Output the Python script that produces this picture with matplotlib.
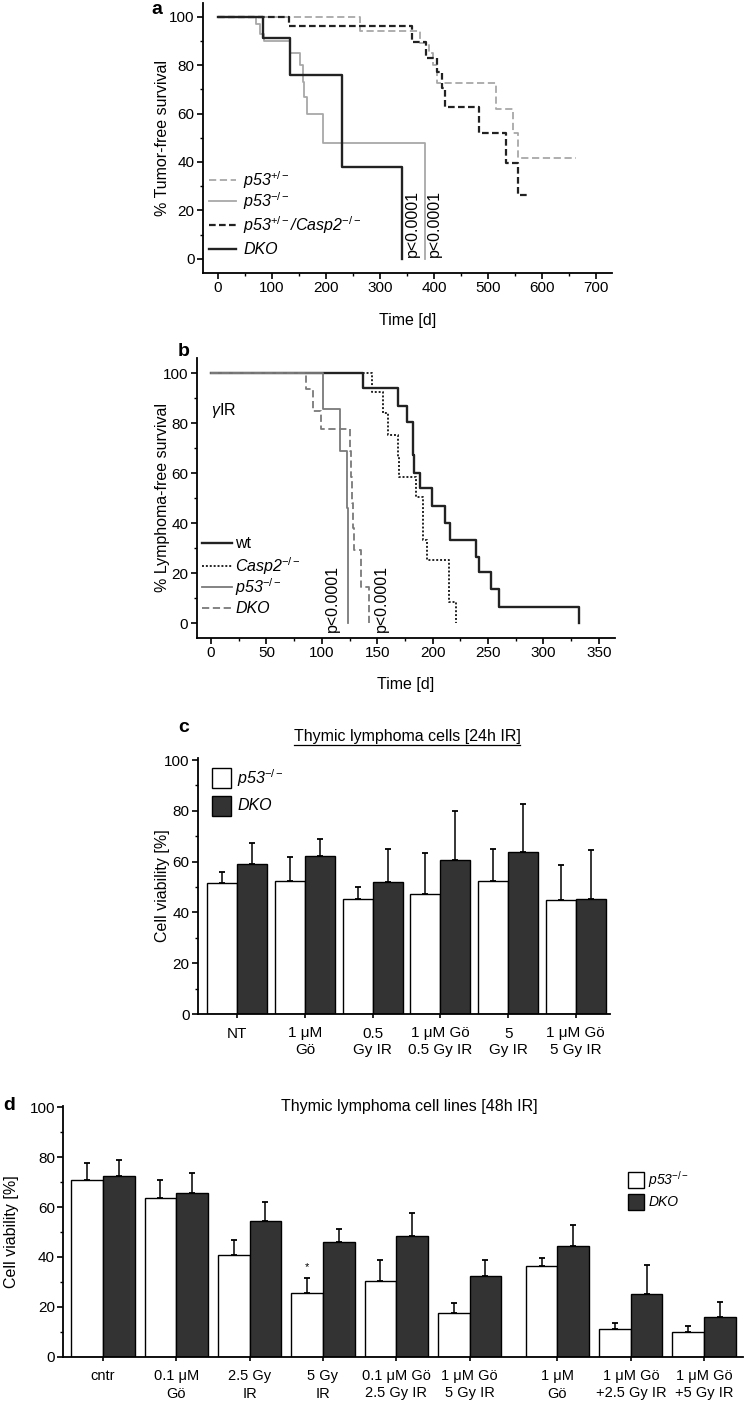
import numpy as np
import matplotlib
matplotlib.use("Agg")
import matplotlib.pyplot as plt
from matplotlib.lines import Line2D
from matplotlib.patches import Rectangle
from matplotlib.ticker import MultipleLocator

plt.rcParams['font.family'] = ['Liberation Sans', 'DejaVu Sans']
plt.rcParams['mathtext.fontset'] = 'custom'
plt.rcParams['mathtext.it'] = 'Liberation Sans:italic'
plt.rcParams['mathtext.rm'] = 'Liberation Sans'
plt.rcParams['mathtext.default'] = 'it'

# ---- panel a: tumor-free survival ----
a_p53het_t = [0, 263, 375, 390, 398, 405, 515, 546, 555, 664]
a_p53het_s = [100, 94, 89, 85, 80, 72.7, 62, 52, 41.5, 41.5]
a_p53ko_t = [0, 70, 78, 85, 133, 152, 157, 160, 164, 194, 383]
a_p53ko_s = [100, 97, 93, 90, 85, 80, 73, 67, 60, 48, 0]
a_hetcasp_t = [0, 132, 359, 386, 405, 415, 421, 483, 533, 555, 575]
a_hetcasp_s = [100, 96, 89.5, 83, 77, 70.5, 62.5, 52, 39.4, 26.4, 26.4]
a_dko_t = [0, 84, 133, 230, 340]
a_dko_s = [100, 91, 76, 38, 0]
a_pvals = [361, 400]

# ---- panel b: lymphoma-free survival after gamma IR ----
b_wt_t = [0, 137.5, 169, 176.6, 182.6, 183.5, 189, 199, 211, 216, 239, 242, 253, 260, 332]
b_wt_s = [100, 94, 87, 80.6, 67.3, 60, 54, 47, 40, 33.3, 26.7, 20.4, 13.6, 6.7, 0]
b_casp_t = [0, 145, 155.5, 160, 169, 170, 185, 191.6, 194.6, 215, 221]
b_casp_s = [100, 92.6, 84, 75.3, 66.6, 58.6, 50.6, 33.3, 25.3, 8.6, 0]
b_p53_t = [0, 101, 116, 122.5, 124]
b_p53_s = [100, 85.7, 69, 46, 0]
b_dko_t = [0, 86, 92, 99, 125, 126, 127, 128, 129, 135, 143]
b_dko_s = [100, 93.6, 85, 77.6, 69, 58.6, 48, 38, 29.3, 14.6, 0]
b_pvals = [110, 154]

# ---- panel c: thymic lymphoma cells 24h IR ----
c_labels = ['NT', '1 \u03bcM\nG\u00f6', '0.5\nGy IR', '1 \u03bcM G\u00f6\n0.5 Gy IR',
            '5\nGy IR', '1 \u03bcM G\u00f6\n5 Gy IR']
c_p53 = [51.5, 52.5, 45.2, 47.2, 52.5, 44.8]
c_p53_err = [4.5, 9.2, 4.9, 16.1, 12.5, 14.0]
c_dko = [59.2, 62.2, 51.8, 60.8, 63.8, 45.2]
c_dko_err = [8.2, 6.7, 13.0, 19.0, 18.7, 19.3]

# ---- panel d: thymic lymphoma cell lines 48h IR ----
d_labels = ['cntr', '0.1 \u03bcM\nG\u00f6', '2.5 Gy\nIR', '5 Gy\nIR',
            '0.1 \u03bcM G\u00f6\n2.5 Gy IR', '1 \u03bcM G\u00f6\n5 Gy IR', '1 \u03bcM\nG\u00f6',
            '1 \u03bcM G\u00f6\n+2.5 Gy IR', '1 \u03bcM G\u00f6\n+5 Gy IR']
d_pos = [0, 1, 2, 3, 4, 5, 6.2, 7.2, 8.2]
d_p53 = [70.9, 63.8, 40.9, 25.7, 30.3, 17.7, 36.3, 11.2, 10.1]
d_p53_err = [6.9, 7.1, 5.7, 5.8, 8.6, 3.8, 3.2, 2.3, 2.2]
d_dko = [72.5, 65.6, 54.3, 45.9, 48.2, 32.5, 44.2, 25.3, 16.0]
d_dko_err = [6.3, 8.1, 7.8, 5.3, 9.4, 6.4, 8.4, 11.6, 5.8]

W, H = 750, 1405
fig = plt.figure(figsize=(W / 100, H / 100), dpi=100)
FS = 11      # tick labels
FL = 11.5    # axis labels / titles


def fx(x):
    return x / W


def fy(y):
    return 1 - y / H


def axes_px(x0, y0, x1, y1):
    return fig.add_axes([fx(x0), fy(y1), (x1 - x0) / W, (y1 - y0) / H])


def style(ax):
    for s in ['top', 'right']:
        ax.spines[s].set_visible(False)
    for s in ['left', 'bottom']:
        ax.spines[s].set_linewidth(1.3)
    ax.tick_params(which='major', length=4, width=1.2, labelsize=FS, pad=2)
    ax.tick_params(which='minor', length=2.5, width=1.0)


def line_legend(entries, x0, x1, xt, ys, fs=FL):
    for (lab, col, ls, lw, st), y in zip(entries, ys):
        fig.add_artist(Line2D([fx(x0), fx(x1)], [fy(y), fy(y)], color=col,
                              linestyle=ls, linewidth=lw))
        fig.text(fx(xt), fy(y), lab, fontsize=fs, style=st, va='center', ha='left')


def box_legend(entries, x0, x1, xt, ys, h, fs):
    for (lab, col), y in zip(entries, ys):
        fig.add_artist(Rectangle((fx(x0), fy(y + h / 2)), (x1 - x0) / W, h / H,
                                 facecolor=col, edgecolor='black', linewidth=1.0))
        fig.text(fx(xt), fy(y), lab, fontsize=fs, style='italic', va='center', ha='left')


# ================= panel a =================
ax = axes_px(203, 3, 612, 273)
style(ax)
lg = '#a8a8a8'
ax.step(a_p53het_t, a_p53het_s, where='post', color=lg, lw=1.3, ls=(0, (4, 2)))
ax.step(a_p53ko_t, a_p53ko_s, where='post', color=lg, lw=1.3)
ax.step(a_hetcasp_t, a_hetcasp_s, where='post', color='#222222', lw=1.6, ls=(0, (3, 1.5)))
ax.step(a_dko_t, a_dko_s, where='post', color='#222222', lw=1.7)
ax.set_xlim(-28, 730)
ax.set_ylim(-5.8, 105.6)
ax.set_yticks([0, 20, 40, 60, 80, 100])
ax.set_xticks(np.arange(0, 701, 100))
ax.yaxis.set_minor_locator(MultipleLocator(10))
ax.xaxis.set_minor_locator(MultipleLocator(50))
ax.set_xlabel('Time [d]', fontsize=FL)
ax.xaxis.set_label_coords(0.5, -0.15)
ax.set_ylabel('% Tumor-free survival', fontsize=FL)
ax.yaxis.set_label_coords(-0.0807, 0.5)
for xp in a_pvals:
    ax.text(xp, 1.0, 'p<0.0001', rotation=90, ha='center', va='bottom', fontsize=11.5)
line_legend([('p53$^{+/-}$', lg, (0, (4, 2)), 1.3, 'italic'),
             ('p53$^{-/-}$', lg, '-', 1.3, 'italic'),
             ('p53$^{+/-}$/Casp2$^{-/-}$', '#222222', (0, (3, 1.5)), 1.6, 'italic'),
             ('DKO', '#222222', '-', 1.7, 'italic')],
            209, 236, 243, [180, 201, 225, 249])
fig.text(fx(157), fy(9), 'a', fontsize=14, fontweight='bold', ha='center', va='center')

# ================= panel b =================
ax = axes_px(196.7, 358, 615, 638)
style(ax)
mg = '#7a7a7a'
ax.step(b_wt_t, b_wt_s, where='post', color='#222222', lw=1.7)
ax.step(b_casp_t, b_casp_s, where='post', color='#222222', lw=1.4, ls=(0, (1, 1)))
ax.step(b_p53_t, b_p53_s, where='post', color=mg, lw=1.3)
ax.step(b_dko_t, b_dko_s, where='post', color=mg, lw=1.3, ls=(0, (4, 2)))
ax.set_xlim(-12.9, 364.6)
ax.set_ylim(-5.9, 106.1)
ax.set_yticks([0, 20, 40, 60, 80, 100])
ax.set_xticks(np.arange(0, 351, 50))
ax.yaxis.set_minor_locator(MultipleLocator(10))
ax.xaxis.set_minor_locator(MultipleLocator(25))
ax.set_xlabel('Time [d]', fontsize=FL)
ax.xaxis.set_label_coords(0.5, -0.14)
ax.set_ylabel('% Lymphoma-free survival', fontsize=FL)
ax.yaxis.set_label_coords(-0.0638, 0.5)
ax.text(0, 85, r'$\gamma$IR', fontsize=FL, ha='left', va='center')
for xp in b_pvals:
    ax.text(xp, -3.6, 'p<0.0001', rotation=90, ha='center', va='bottom', fontsize=11.5)
line_legend([('wt', '#222222', '-', 1.7, 'normal'),
             ('Casp2$^{-/-}$', '#222222', (0, (1, 1)), 1.4, 'italic'),
             ('p53$^{-/-}$', mg, '-', 1.3, 'italic'),
             ('DKO', mg, (0, (4, 2)), 1.3, 'italic')],
            202, 232, 235, [543, 566, 587, 608])
fig.text(fx(184), fy(352), 'b', fontsize=14, fontweight='bold', ha='center', va='center')

# ================= panel c =================
dark = '#333333'
ax = axes_px(198, 758, 610, 1014)
style(ax)
xc = np.arange(len(c_labels))
bw = 0.443
ax.bar(xc - bw / 2, c_p53, bw, color='white', edgecolor='black', linewidth=1.0)
ax.bar(xc + bw / 2, c_dko, bw, color=dark, edgecolor='black', linewidth=1.0)
ax.errorbar(xc - bw / 2, c_p53, yerr=[np.zeros(len(c_p53)), c_p53_err], fmt='none',
            ecolor='black', elinewidth=1.1, capsize=2.5, capthick=1.3)
ax.errorbar(xc + bw / 2, c_dko, yerr=[np.zeros(len(c_dko)), c_dko_err], fmt='none',
            ecolor='black', elinewidth=1.1, capsize=2.5, capthick=1.3)
ax.set_xlim(-0.58, 5.505)
ax.set_ylim(0, 100.8)
ax.set_yticks([0, 20, 40, 60, 80, 100])
ax.yaxis.set_minor_locator(MultipleLocator(10))
ax.set_xticks(xc)
ax.set_xticklabels(c_labels, fontsize=FS, linespacing=1.2)
ax.tick_params(axis='x', length=3, pad=6)
ax.set_ylabel('Cell viability [%]', fontsize=FL)
ax.yaxis.set_label_coords(-0.068, 0.5)
box_legend([('p53$^{-/-}$', 'white'), ('DKO', dark)], 211.7, 230.7, 237, [778, 806], 20, FL)
t_c = fig.text(fx(407), fy(736), 'Thymic lymphoma cells [24h IR]', fontsize=FL,
               ha='center', va='center')
fig.text(fx(184), fy(727), 'c', fontsize=14, fontweight='bold', ha='center', va='center')

# ================= panel d =================
ax = axes_px(63.3, 1106, 743, 1356.7)
style(ax)
xd = np.array(d_pos)
bw = 0.432
ax.bar(xd - bw / 2, d_p53, bw, color='white', edgecolor='black', linewidth=1.0)
ax.bar(xd + bw / 2, d_dko, bw, color=dark, edgecolor='black', linewidth=1.0)
ax.errorbar(xd - bw / 2, d_p53, yerr=[np.zeros(len(d_p53)), d_p53_err], fmt='none',
            ecolor='black', elinewidth=1.1, capsize=2.5, capthick=1.3)
ax.errorbar(xd + bw / 2, d_dko, yerr=[np.zeros(len(d_dko)), d_dko_err], fmt='none',
            ecolor='black', elinewidth=1.1, capsize=2.5, capthick=1.3)
ax.text(xd[3] - bw / 2, d_p53[3] + d_p53_err[3] + 2.5, '*', fontsize=8,
        ha='center', va='bottom')
ax.set_xlim(-0.54, 8.73)
ax.set_ylim(0, 100.5)
ax.set_yticks([0, 20, 40, 60, 80, 100])
ax.yaxis.set_minor_locator(MultipleLocator(10))
ax.set_xticks(xd)
ax.set_xticklabels(d_labels, fontsize=10.5, linespacing=1.3)
ax.tick_params(axis='x', length=3, pad=6)
ax.set_ylabel('Cell viability [%]', fontsize=FL)
ax.yaxis.set_label_coords(-0.0652, 0.5)
box_legend([('p53$^{-/-}$', 'white'), ('DKO', dark)], 628.3, 644, 648.3, [1180, 1202], 16, 10)
fig.text(fx(409), fy(1106), 'Thymic lymphoma cell lines [48h IR]', fontsize=FL,
         ha='center', va='center')
fig.text(fx(9), fy(1106), 'd', fontsize=14, fontweight='bold', ha='center', va='center')

# underline for panel c title
fig.canvas.draw()
bb = t_c.get_window_extent().transformed(fig.transFigure.inverted())
fig.add_artist(Line2D([bb.x0, bb.x1], [bb.y0 - 1.5 / H, bb.y0 - 1.5 / H],
                      color='black', linewidth=0.9))

fig.savefig('out.png', dpi=100)
